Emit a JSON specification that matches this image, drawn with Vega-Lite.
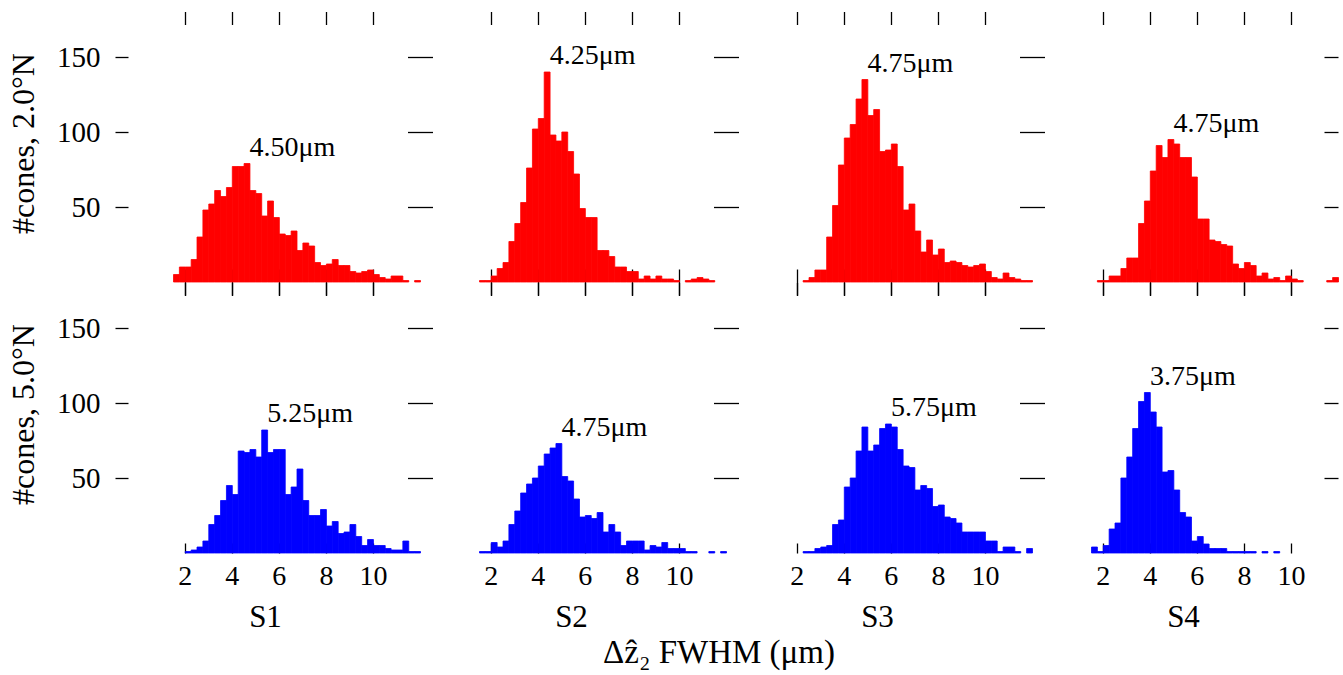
{
"$schema":"https://vega.github.io/schema/vega-lite/v6.json",
"background":"white",
"padding":{"left":7,"top":10,"right":4,"bottom":3},
"datasets":{
"hist":[
{"p":"S1","r":"2.0","x":1.5,"n":5},{"p":"S1","r":"2.0","x":1.75,"n":10},{"p":"S1","r":"2.0","x":2,"n":10},{"p":"S1","r":"2.0","x":2.25,"n":15},{"p":"S1","r":"2.0","x":2.5,"n":30},{"p":"S1","r":"2.0","x":2.75,"n":48},{"p":"S1","r":"2.0","x":3,"n":52},{"p":"S1","r":"2.0","x":3.25,"n":61},{"p":"S1","r":"2.0","x":3.5,"n":57},{"p":"S1","r":"2.0","x":3.75,"n":63},{"p":"S1","r":"2.0","x":4,"n":77},{"p":"S1","r":"2.0","x":4.25,"n":77},{"p":"S1","r":"2.0","x":4.5,"n":79},{"p":"S1","r":"2.0","x":4.75,"n":61},{"p":"S1","r":"2.0","x":5,"n":59},{"p":"S1","r":"2.0","x":5.25,"n":44},{"p":"S1","r":"2.0","x":5.5,"n":54},{"p":"S1","r":"2.0","x":5.75,"n":43},{"p":"S1","r":"2.0","x":6,"n":32},{"p":"S1","r":"2.0","x":6.25,"n":31},{"p":"S1","r":"2.0","x":6.5,"n":34},{"p":"S1","r":"2.0","x":6.75,"n":21},{"p":"S1","r":"2.0","x":7,"n":26},{"p":"S1","r":"2.0","x":7.25,"n":24},{"p":"S1","r":"2.0","x":7.5,"n":13},{"p":"S1","r":"2.0","x":7.75,"n":11},{"p":"S1","r":"2.0","x":8,"n":12},{"p":"S1","r":"2.0","x":8.25,"n":15},{"p":"S1","r":"2.0","x":8.5,"n":11},{"p":"S1","r":"2.0","x":8.75,"n":11},{"p":"S1","r":"2.0","x":9,"n":7},{"p":"S1","r":"2.0","x":9.25,"n":6},{"p":"S1","r":"2.0","x":9.5,"n":7},{"p":"S1","r":"2.0","x":9.75,"n":8},{"p":"S1","r":"2.0","x":10,"n":5},{"p":"S1","r":"2.0","x":10.25,"n":3},{"p":"S1","r":"2.0","x":10.5,"n":2},{"p":"S1","r":"2.0","x":10.75,"n":4},{"p":"S1","r":"2.0","x":11,"n":4},{"p":"S1","r":"2.0","x":11.25,"n":1},{"p":"S1","r":"2.0","x":11.75,"n":1},
{"p":"S1","r":"5.0","x":2,"n":1},{"p":"S1","r":"5.0","x":2.25,"n":2},{"p":"S1","r":"5.0","x":2.5,"n":4},{"p":"S1","r":"5.0","x":2.75,"n":8},{"p":"S1","r":"5.0","x":3,"n":19},{"p":"S1","r":"5.0","x":3.25,"n":25},{"p":"S1","r":"5.0","x":3.5,"n":35},{"p":"S1","r":"5.0","x":3.75,"n":45},{"p":"S1","r":"5.0","x":4,"n":39},{"p":"S1","r":"5.0","x":4.25,"n":68},{"p":"S1","r":"5.0","x":4.5,"n":67},{"p":"S1","r":"5.0","x":4.75,"n":69},{"p":"S1","r":"5.0","x":5,"n":64},{"p":"S1","r":"5.0","x":5.25,"n":82},{"p":"S1","r":"5.0","x":5.5,"n":67},{"p":"S1","r":"5.0","x":5.75,"n":69},{"p":"S1","r":"5.0","x":6,"n":69},{"p":"S1","r":"5.0","x":6.25,"n":39},{"p":"S1","r":"5.0","x":6.5,"n":44},{"p":"S1","r":"5.0","x":6.75,"n":56},{"p":"S1","r":"5.0","x":7,"n":35},{"p":"S1","r":"5.0","x":7.25,"n":25},{"p":"S1","r":"5.0","x":7.5,"n":25},{"p":"S1","r":"5.0","x":7.75,"n":29},{"p":"S1","r":"5.0","x":8,"n":18},{"p":"S1","r":"5.0","x":8.25,"n":21},{"p":"S1","r":"5.0","x":8.5,"n":13},{"p":"S1","r":"5.0","x":8.75,"n":14},{"p":"S1","r":"5.0","x":9,"n":19},{"p":"S1","r":"5.0","x":9.25,"n":11},{"p":"S1","r":"5.0","x":9.5,"n":5},{"p":"S1","r":"5.0","x":9.75,"n":9},{"p":"S1","r":"5.0","x":10,"n":5},{"p":"S1","r":"5.0","x":10.25,"n":5},{"p":"S1","r":"5.0","x":10.5,"n":3},{"p":"S1","r":"5.0","x":10.75,"n":2},{"p":"S1","r":"5.0","x":11,"n":2},{"p":"S1","r":"5.0","x":11.25,"n":8},{"p":"S1","r":"5.0","x":11.5,"n":1},{"p":"S1","r":"5.0","x":11.75,"n":1},
{"p":"S2","r":"2.0","x":1.5,"n":1},{"p":"S2","r":"2.0","x":1.75,"n":1},{"p":"S2","r":"2.0","x":2,"n":4},{"p":"S2","r":"2.0","x":2.25,"n":9},{"p":"S2","r":"2.0","x":2.5,"n":13},{"p":"S2","r":"2.0","x":2.75,"n":27},{"p":"S2","r":"2.0","x":3,"n":39},{"p":"S2","r":"2.0","x":3.25,"n":53},{"p":"S2","r":"2.0","x":3.5,"n":76},{"p":"S2","r":"2.0","x":3.75,"n":102},{"p":"S2","r":"2.0","x":4,"n":109},{"p":"S2","r":"2.0","x":4.25,"n":140},{"p":"S2","r":"2.0","x":4.5,"n":98},{"p":"S2","r":"2.0","x":4.75,"n":94},{"p":"S2","r":"2.0","x":5,"n":100},{"p":"S2","r":"2.0","x":5.25,"n":87},{"p":"S2","r":"2.0","x":5.5,"n":72},{"p":"S2","r":"2.0","x":5.75,"n":49},{"p":"S2","r":"2.0","x":6,"n":43},{"p":"S2","r":"2.0","x":6.25,"n":43},{"p":"S2","r":"2.0","x":6.5,"n":21},{"p":"S2","r":"2.0","x":6.75,"n":21},{"p":"S2","r":"2.0","x":7,"n":17},{"p":"S2","r":"2.0","x":7.25,"n":10},{"p":"S2","r":"2.0","x":7.5,"n":10},{"p":"S2","r":"2.0","x":7.75,"n":7},{"p":"S2","r":"2.0","x":8,"n":7},{"p":"S2","r":"2.0","x":8.25,"n":2},{"p":"S2","r":"2.0","x":8.5,"n":4},{"p":"S2","r":"2.0","x":8.75,"n":2},{"p":"S2","r":"2.0","x":9,"n":4},{"p":"S2","r":"2.0","x":9.25,"n":2},{"p":"S2","r":"2.0","x":9.5,"n":2},{"p":"S2","r":"2.0","x":9.75,"n":1},{"p":"S2","r":"2.0","x":10.25,"n":1},{"p":"S2","r":"2.0","x":10.5,"n":2},{"p":"S2","r":"2.0","x":10.75,"n":3},{"p":"S2","r":"2.0","x":11,"n":2},{"p":"S2","r":"2.0","x":11.25,"n":1},
{"p":"S2","r":"5.0","x":1.5,"n":1},{"p":"S2","r":"5.0","x":1.75,"n":1},{"p":"S2","r":"5.0","x":2,"n":7},{"p":"S2","r":"5.0","x":2.25,"n":4},{"p":"S2","r":"5.0","x":2.5,"n":8},{"p":"S2","r":"5.0","x":2.75,"n":19},{"p":"S2","r":"5.0","x":3,"n":28},{"p":"S2","r":"5.0","x":3.25,"n":40},{"p":"S2","r":"5.0","x":3.5,"n":46},{"p":"S2","r":"5.0","x":3.75,"n":50},{"p":"S2","r":"5.0","x":4,"n":58},{"p":"S2","r":"5.0","x":4.25,"n":66},{"p":"S2","r":"5.0","x":4.5,"n":70},{"p":"S2","r":"5.0","x":4.75,"n":73},{"p":"S2","r":"5.0","x":5,"n":51},{"p":"S2","r":"5.0","x":5.25,"n":48},{"p":"S2","r":"5.0","x":5.5,"n":36},{"p":"S2","r":"5.0","x":5.75,"n":24},{"p":"S2","r":"5.0","x":6,"n":25},{"p":"S2","r":"5.0","x":6.25,"n":23},{"p":"S2","r":"5.0","x":6.5,"n":27},{"p":"S2","r":"5.0","x":6.75,"n":14},{"p":"S2","r":"5.0","x":7,"n":19},{"p":"S2","r":"5.0","x":7.25,"n":14},{"p":"S2","r":"5.0","x":7.5,"n":5},{"p":"S2","r":"5.0","x":7.75,"n":8},{"p":"S2","r":"5.0","x":8,"n":8},{"p":"S2","r":"5.0","x":8.25,"n":8},{"p":"S2","r":"5.0","x":8.5,"n":2},{"p":"S2","r":"5.0","x":8.75,"n":5},{"p":"S2","r":"5.0","x":9,"n":4},{"p":"S2","r":"5.0","x":9.25,"n":7},{"p":"S2","r":"5.0","x":9.5,"n":3},{"p":"S2","r":"5.0","x":9.75,"n":3},{"p":"S2","r":"5.0","x":10,"n":3},{"p":"S2","r":"5.0","x":10.25,"n":1},{"p":"S2","r":"5.0","x":10.5,"n":1},{"p":"S2","r":"5.0","x":11.25,"n":1},{"p":"S2","r":"5.0","x":11.75,"n":1},
{"p":"S3","r":"2.0","x":2.25,"n":1},{"p":"S3","r":"2.0","x":2.5,"n":3},{"p":"S3","r":"2.0","x":2.75,"n":8},{"p":"S3","r":"2.0","x":3,"n":8},{"p":"S3","r":"2.0","x":3.25,"n":30},{"p":"S3","r":"2.0","x":3.5,"n":51},{"p":"S3","r":"2.0","x":3.75,"n":78},{"p":"S3","r":"2.0","x":4,"n":96},{"p":"S3","r":"2.0","x":4.25,"n":105},{"p":"S3","r":"2.0","x":4.5,"n":122},{"p":"S3","r":"2.0","x":4.75,"n":135},{"p":"S3","r":"2.0","x":5,"n":111},{"p":"S3","r":"2.0","x":5.25,"n":115},{"p":"S3","r":"2.0","x":5.5,"n":87},{"p":"S3","r":"2.0","x":5.75,"n":88},{"p":"S3","r":"2.0","x":6,"n":92},{"p":"S3","r":"2.0","x":6.25,"n":77},{"p":"S3","r":"2.0","x":6.5,"n":48},{"p":"S3","r":"2.0","x":6.75,"n":52},{"p":"S3","r":"2.0","x":7,"n":34},{"p":"S3","r":"2.0","x":7.25,"n":20},{"p":"S3","r":"2.0","x":7.5,"n":28},{"p":"S3","r":"2.0","x":7.75,"n":18},{"p":"S3","r":"2.0","x":8,"n":22},{"p":"S3","r":"2.0","x":8.25,"n":13},{"p":"S3","r":"2.0","x":8.5,"n":14},{"p":"S3","r":"2.0","x":8.75,"n":13},{"p":"S3","r":"2.0","x":9,"n":11},{"p":"S3","r":"2.0","x":9.25,"n":10},{"p":"S3","r":"2.0","x":9.5,"n":11},{"p":"S3","r":"2.0","x":9.75,"n":12},{"p":"S3","r":"2.0","x":10,"n":7},{"p":"S3","r":"2.0","x":10.25,"n":3},{"p":"S3","r":"2.0","x":10.5,"n":2},{"p":"S3","r":"2.0","x":10.75,"n":6},{"p":"S3","r":"2.0","x":11,"n":3},{"p":"S3","r":"2.0","x":11.25,"n":2},{"p":"S3","r":"2.0","x":11.5,"n":1},{"p":"S3","r":"2.0","x":11.75,"n":1},
{"p":"S3","r":"5.0","x":2.25,"n":1},{"p":"S3","r":"5.0","x":2.5,"n":1},{"p":"S3","r":"5.0","x":2.75,"n":3},{"p":"S3","r":"5.0","x":3,"n":4},{"p":"S3","r":"5.0","x":3.25,"n":5},{"p":"S3","r":"5.0","x":3.5,"n":19},{"p":"S3","r":"5.0","x":3.75,"n":22},{"p":"S3","r":"5.0","x":4,"n":44},{"p":"S3","r":"5.0","x":4.25,"n":50},{"p":"S3","r":"5.0","x":4.5,"n":68},{"p":"S3","r":"5.0","x":4.75,"n":84},{"p":"S3","r":"5.0","x":5,"n":68},{"p":"S3","r":"5.0","x":5.25,"n":72},{"p":"S3","r":"5.0","x":5.5,"n":83},{"p":"S3","r":"5.0","x":5.75,"n":86},{"p":"S3","r":"5.0","x":6,"n":84},{"p":"S3","r":"5.0","x":6.25,"n":69},{"p":"S3","r":"5.0","x":6.5,"n":58},{"p":"S3","r":"5.0","x":6.75,"n":57},{"p":"S3","r":"5.0","x":7,"n":42},{"p":"S3","r":"5.0","x":7.25,"n":45},{"p":"S3","r":"5.0","x":7.5,"n":43},{"p":"S3","r":"5.0","x":7.75,"n":31},{"p":"S3","r":"5.0","x":8,"n":32},{"p":"S3","r":"5.0","x":8.25,"n":24},{"p":"S3","r":"5.0","x":8.5,"n":23},{"p":"S3","r":"5.0","x":8.75,"n":20},{"p":"S3","r":"5.0","x":9,"n":14},{"p":"S3","r":"5.0","x":9.25,"n":14},{"p":"S3","r":"5.0","x":9.5,"n":14},{"p":"S3","r":"5.0","x":9.75,"n":14},{"p":"S3","r":"5.0","x":10,"n":8},{"p":"S3","r":"5.0","x":10.25,"n":8},{"p":"S3","r":"5.0","x":10.5,"n":1},{"p":"S3","r":"5.0","x":10.75,"n":4},{"p":"S3","r":"5.0","x":11,"n":4},{"p":"S3","r":"5.0","x":11.25,"n":1},{"p":"S3","r":"5.0","x":11.75,"n":3},
{"p":"S4","r":"2.0","x":1.75,"n":1},{"p":"S4","r":"2.0","x":2,"n":1},{"p":"S4","r":"2.0","x":2.25,"n":4},{"p":"S4","r":"2.0","x":2.5,"n":4},{"p":"S4","r":"2.0","x":2.75,"n":9},{"p":"S4","r":"2.0","x":3,"n":16},{"p":"S4","r":"2.0","x":3.25,"n":16},{"p":"S4","r":"2.0","x":3.5,"n":39},{"p":"S4","r":"2.0","x":3.75,"n":54},{"p":"S4","r":"2.0","x":4,"n":74},{"p":"S4","r":"2.0","x":4.25,"n":91},{"p":"S4","r":"2.0","x":4.5,"n":83},{"p":"S4","r":"2.0","x":4.75,"n":95},{"p":"S4","r":"2.0","x":5,"n":92},{"p":"S4","r":"2.0","x":5.25,"n":83},{"p":"S4","r":"2.0","x":5.5,"n":83},{"p":"S4","r":"2.0","x":5.75,"n":70},{"p":"S4","r":"2.0","x":6,"n":42},{"p":"S4","r":"2.0","x":6.25,"n":42},{"p":"S4","r":"2.0","x":6.5,"n":28},{"p":"S4","r":"2.0","x":6.75,"n":27},{"p":"S4","r":"2.0","x":7,"n":25},{"p":"S4","r":"2.0","x":7.25,"n":24},{"p":"S4","r":"2.0","x":7.5,"n":12},{"p":"S4","r":"2.0","x":7.75,"n":9},{"p":"S4","r":"2.0","x":8,"n":13},{"p":"S4","r":"2.0","x":8.25,"n":11},{"p":"S4","r":"2.0","x":8.5,"n":4},{"p":"S4","r":"2.0","x":8.75,"n":6},{"p":"S4","r":"2.0","x":9,"n":2},{"p":"S4","r":"2.0","x":9.25,"n":3},{"p":"S4","r":"2.0","x":9.5,"n":1},{"p":"S4","r":"2.0","x":9.75,"n":4},{"p":"S4","r":"2.0","x":10,"n":2},{"p":"S4","r":"2.0","x":10.25,"n":1},{"p":"S4","r":"2.0","x":11.5,"n":1},{"p":"S4","r":"2.0","x":11.75,"n":3},
{"p":"S4","r":"5.0","x":1.5,"n":4},{"p":"S4","r":"5.0","x":1.75,"n":1},{"p":"S4","r":"5.0","x":2,"n":5},{"p":"S4","r":"5.0","x":2.25,"n":16},{"p":"S4","r":"5.0","x":2.5,"n":20},{"p":"S4","r":"5.0","x":2.75,"n":50},{"p":"S4","r":"5.0","x":3,"n":64},{"p":"S4","r":"5.0","x":3.25,"n":83},{"p":"S4","r":"5.0","x":3.5,"n":101},{"p":"S4","r":"5.0","x":3.75,"n":107},{"p":"S4","r":"5.0","x":4,"n":94},{"p":"S4","r":"5.0","x":4.25,"n":84},{"p":"S4","r":"5.0","x":4.5,"n":54},{"p":"S4","r":"5.0","x":4.75,"n":55},{"p":"S4","r":"5.0","x":5,"n":42},{"p":"S4","r":"5.0","x":5.25,"n":27},{"p":"S4","r":"5.0","x":5.5,"n":24},{"p":"S4","r":"5.0","x":5.75,"n":8},{"p":"S4","r":"5.0","x":6,"n":11},{"p":"S4","r":"5.0","x":6.25,"n":6},{"p":"S4","r":"5.0","x":6.5,"n":3},{"p":"S4","r":"5.0","x":6.75,"n":3},{"p":"S4","r":"5.0","x":7,"n":3},{"p":"S4","r":"5.0","x":7.25,"n":1},{"p":"S4","r":"5.0","x":7.5,"n":1},{"p":"S4","r":"5.0","x":7.75,"n":1},{"p":"S4","r":"5.0","x":8,"n":1},{"p":"S4","r":"5.0","x":8.25,"n":1},{"p":"S4","r":"5.0","x":8.75,"n":1},{"p":"S4","r":"5.0","x":9.25,"n":1}
],
"ann":[
{"p":"S1","r":"2.0","m":4.5,"pk":79,"t":"4.50μm"},
{"p":"S2","r":"2.0","m":4.25,"pk":140,"t":"4.25μm"},
{"p":"S3","r":"2.0","m":4.75,"pk":135,"t":"4.75μm"},
{"p":"S4","r":"2.0","m":4.75,"pk":95,"t":"4.75μm"},
{"p":"S1","r":"5.0","m":5.25,"pk":82,"t":"5.25μm"},
{"p":"S2","r":"5.0","m":4.75,"pk":73,"t":"4.75μm"},
{"p":"S3","r":"5.0","m":5.75,"pk":86,"t":"5.75μm"},
{"p":"S4","r":"5.0","m":3.75,"pk":107,"t":"3.75μm"}
]
},
"config":{
"view":{"stroke":null},
"font":"Liberation Serif",
"axis":{"grid":false,"domain":false,"tickColor":"#000","tickWidth":1.3,"labelColor":"#000","titleColor":"#000","labelFont":"Liberation Serif","titleFont":"Liberation Serif","titleFontWeight":"normal"},
"title":{"font":"Liberation Serif","fontWeight":"normal","color":"#000"}
},
"title":{"text":"Δẑ₂ FWHM (μm)","orient":"bottom","anchor":"middle","frame":"bounds","fontSize":33,"offset":5,"dx":46},
"columns":4,
"spacing":{"row":7,"column":59},
"bounds":"flush",
"concat":[
{"width":247,"height":264,"layer":[
{"data":{"name":"hist"},"transform":[{"filter":"datum.p=='S1'&&datum.r=='2.0'"}],"mark":{"type":"bar","color":"#ff0000","stroke":"#ff0000","strokeWidth":0.8,"binSpacing":0},
"encoding":{"x":{"field":"x","type":"quantitative","bin":{"binned":true,"step":0.25},"scale":{"domain":[1.5,12],"nice":false,"zero":false},"axis":{"orient":"bottom","values":[2,4,6,8,10],"labels":false,"tickSize":26,"offset":-13,"title":null}},
"y":{"field":"n","type":"quantitative","scale":{"domain":[0,176],"nice":false},"axis":{"orient":"left","values":[50,100,150],"tickSize":13,"offset":45,"labelFontSize":29,"labelPadding":15,"title":"#cones, 2.0°N","titleFontSize":32,"titleAngle":270,"titleX":-95,"titleY":125,"titleAlign":"center","titleBaseline":"alphabetic"}}}},
{"data":{"name":"ann"},"transform":[{"filter":"datum.p=='S1'&&datum.r=='2.0'"}],"mark":{"type":"text","align":"left","baseline":"alphabetic","dx":6,"dy":-8,"fontSize":28,"font":"Liberation Serif","color":"#000"},
"encoding":{"x":{"field":"m","type":"quantitative","axis":{"orient":"top","values":[2,4,6,8,10],"labels":false,"tickSize":13,"offset":-6.5,"title":null}},
"y":{"field":"pk","type":"quantitative","axis":{"orient":"right","values":[50,100,150],"labels":false,"tickSize":25,"offset":-12.5,"title":null}},"text":{"field":"t"}}}
],"resolve":{"axis":{"x":"independent","y":"independent"}}},
{"width":247,"height":264,"layer":[
{"data":{"name":"hist"},"transform":[{"filter":"datum.p=='S2'&&datum.r=='2.0'"}],"mark":{"type":"bar","color":"#ff0000","stroke":"#ff0000","strokeWidth":0.8,"binSpacing":0},
"encoding":{"x":{"field":"x","type":"quantitative","bin":{"binned":true,"step":0.25},"scale":{"domain":[1.5,12],"nice":false,"zero":false},"axis":{"orient":"bottom","values":[2,4,6,8,10],"labels":false,"tickSize":26,"offset":-13,"title":null}},
"y":{"field":"n","type":"quantitative","scale":{"domain":[0,176],"nice":false},"axis":null}}},
{"data":{"name":"ann"},"transform":[{"filter":"datum.p=='S2'&&datum.r=='2.0'"}],"mark":{"type":"text","align":"left","baseline":"alphabetic","dx":6,"dy":-8,"fontSize":28,"font":"Liberation Serif","color":"#000"},
"encoding":{"x":{"field":"m","type":"quantitative","axis":{"orient":"top","values":[2,4,6,8,10],"labels":false,"tickSize":13,"offset":-6.5,"title":null}},
"y":{"field":"pk","type":"quantitative","axis":{"orient":"right","values":[50,100,150],"labels":false,"tickSize":25,"offset":-12.5,"title":null}},"text":{"field":"t"}}}
],"resolve":{"axis":{"x":"independent","y":"independent"}}},
{"width":247,"height":264,"layer":[
{"data":{"name":"hist"},"transform":[{"filter":"datum.p=='S3'&&datum.r=='2.0'"}],"mark":{"type":"bar","color":"#ff0000","stroke":"#ff0000","strokeWidth":0.8,"binSpacing":0},
"encoding":{"x":{"field":"x","type":"quantitative","bin":{"binned":true,"step":0.25},"scale":{"domain":[1.5,12],"nice":false,"zero":false},"axis":{"orient":"bottom","values":[2,4,6,8,10],"labels":false,"tickSize":26,"offset":-13,"title":null}},
"y":{"field":"n","type":"quantitative","scale":{"domain":[0,176],"nice":false},"axis":null}}},
{"data":{"name":"ann"},"transform":[{"filter":"datum.p=='S3'&&datum.r=='2.0'"}],"mark":{"type":"text","align":"left","baseline":"alphabetic","dx":6,"dy":-8,"fontSize":28,"font":"Liberation Serif","color":"#000"},
"encoding":{"x":{"field":"m","type":"quantitative","axis":{"orient":"top","values":[2,4,6,8,10],"labels":false,"tickSize":13,"offset":-6.5,"title":null}},
"y":{"field":"pk","type":"quantitative","axis":{"orient":"right","values":[50,100,150],"labels":false,"tickSize":25,"offset":-12.5,"title":null}},"text":{"field":"t"}}}
],"resolve":{"axis":{"x":"independent","y":"independent"}}},
{"width":247,"height":264,"layer":[
{"data":{"name":"hist"},"transform":[{"filter":"datum.p=='S4'&&datum.r=='2.0'"}],"mark":{"type":"bar","color":"#ff0000","stroke":"#ff0000","strokeWidth":0.8,"binSpacing":0},
"encoding":{"x":{"field":"x","type":"quantitative","bin":{"binned":true,"step":0.25},"scale":{"domain":[1.5,12],"nice":false,"zero":false},"axis":{"orient":"bottom","values":[2,4,6,8,10],"labels":false,"tickSize":26,"offset":-13,"title":null}},
"y":{"field":"n","type":"quantitative","scale":{"domain":[0,176],"nice":false},"axis":null}}},
{"data":{"name":"ann"},"transform":[{"filter":"datum.p=='S4'&&datum.r=='2.0'"}],"mark":{"type":"text","align":"left","baseline":"alphabetic","dx":6,"dy":-8,"fontSize":28,"font":"Liberation Serif","color":"#000"},
"encoding":{"x":{"field":"m","type":"quantitative","axis":{"orient":"top","values":[2,4,6,8,10],"labels":false,"tickSize":13,"offset":-6.5,"title":null}},
"y":{"field":"pk","type":"quantitative","axis":{"orient":"right","values":[50,100,150],"labels":false,"tickSize":14,"offset":-14,"title":null}},"text":{"field":"t"}}}
],"resolve":{"axis":{"x":"independent","y":"independent"}}},
{"width":247,"height":264,"layer":[
{"data":{"name":"hist"},"transform":[{"filter":"datum.p=='S1'&&datum.r=='5.0'"}],"mark":{"type":"bar","color":"#0000ff","stroke":"#0000ff","strokeWidth":0.8,"binSpacing":0},
"encoding":{"x":{"field":"x","type":"quantitative","bin":{"binned":true,"step":0.25},"scale":{"domain":[1.5,12],"nice":false,"zero":false},"axis":{"orient":"bottom","values":[2,4,6,8,10],"format":"d","labelFontSize":28,"labelPadding":9,"tickSize":10,"offset":-10,"title":"S1","titleFontSize":31,"titleX":92,"titleY":83,"titleAlign":"center","titleBaseline":"alphabetic"}},
"y":{"field":"n","type":"quantitative","scale":{"domain":[0,176],"nice":false},"axis":{"orient":"left","values":[50,100,150],"tickSize":13,"offset":45,"labelFontSize":29,"labelPadding":15,"title":"#cones, 5.0°N","titleFontSize":32,"titleAngle":270,"titleX":-95,"titleY":125,"titleAlign":"center","titleBaseline":"alphabetic"}}}},
{"data":{"name":"ann"},"transform":[{"filter":"datum.p=='S1'&&datum.r=='5.0'"}],"mark":{"type":"text","align":"left","baseline":"alphabetic","dx":6,"dy":-8,"fontSize":28,"font":"Liberation Serif","color":"#000"},
"encoding":{"x":{"field":"m","type":"quantitative","axis":{"orient":"top","values":[2,4,6,8,10],"labels":false,"tickSize":13,"offset":-6.5,"title":null}},
"y":{"field":"pk","type":"quantitative","axis":{"orient":"right","values":[50,100,150],"labels":false,"tickSize":25,"offset":-12.5,"title":null}},"text":{"field":"t"}}}
],"resolve":{"axis":{"x":"independent","y":"independent"}}},
{"width":247,"height":264,"layer":[
{"data":{"name":"hist"},"transform":[{"filter":"datum.p=='S2'&&datum.r=='5.0'"}],"mark":{"type":"bar","color":"#0000ff","stroke":"#0000ff","strokeWidth":0.8,"binSpacing":0},
"encoding":{"x":{"field":"x","type":"quantitative","bin":{"binned":true,"step":0.25},"scale":{"domain":[1.5,12],"nice":false,"zero":false},"axis":{"orient":"bottom","values":[2,4,6,8,10],"format":"d","labelFontSize":28,"labelPadding":9,"tickSize":10,"offset":-10,"title":"S2","titleFontSize":31,"titleX":92,"titleY":83,"titleAlign":"center","titleBaseline":"alphabetic"}},
"y":{"field":"n","type":"quantitative","scale":{"domain":[0,176],"nice":false},"axis":null}}},
{"data":{"name":"ann"},"transform":[{"filter":"datum.p=='S2'&&datum.r=='5.0'"}],"mark":{"type":"text","align":"left","baseline":"alphabetic","dx":6,"dy":-8,"fontSize":28,"font":"Liberation Serif","color":"#000"},
"encoding":{"x":{"field":"m","type":"quantitative","axis":{"orient":"top","values":[2,4,6,8,10],"labels":false,"tickSize":13,"offset":-6.5,"title":null}},
"y":{"field":"pk","type":"quantitative","axis":{"orient":"right","values":[50,100,150],"labels":false,"tickSize":25,"offset":-12.5,"title":null}},"text":{"field":"t"}}}
],"resolve":{"axis":{"x":"independent","y":"independent"}}},
{"width":247,"height":264,"layer":[
{"data":{"name":"hist"},"transform":[{"filter":"datum.p=='S3'&&datum.r=='5.0'"}],"mark":{"type":"bar","color":"#0000ff","stroke":"#0000ff","strokeWidth":0.8,"binSpacing":0},
"encoding":{"x":{"field":"x","type":"quantitative","bin":{"binned":true,"step":0.25},"scale":{"domain":[1.5,12],"nice":false,"zero":false},"axis":{"orient":"bottom","values":[2,4,6,8,10],"format":"d","labelFontSize":28,"labelPadding":9,"tickSize":10,"offset":-10,"title":"S3","titleFontSize":31,"titleX":92,"titleY":83,"titleAlign":"center","titleBaseline":"alphabetic"}},
"y":{"field":"n","type":"quantitative","scale":{"domain":[0,176],"nice":false},"axis":null}}},
{"data":{"name":"ann"},"transform":[{"filter":"datum.p=='S3'&&datum.r=='5.0'"}],"mark":{"type":"text","align":"left","baseline":"alphabetic","dx":6,"dy":-8,"fontSize":28,"font":"Liberation Serif","color":"#000"},
"encoding":{"x":{"field":"m","type":"quantitative","axis":{"orient":"top","values":[2,4,6,8,10],"labels":false,"tickSize":13,"offset":-6.5,"title":null}},
"y":{"field":"pk","type":"quantitative","axis":{"orient":"right","values":[50,100,150],"labels":false,"tickSize":25,"offset":-12.5,"title":null}},"text":{"field":"t"}}}
],"resolve":{"axis":{"x":"independent","y":"independent"}}},
{"width":247,"height":264,"layer":[
{"data":{"name":"hist"},"transform":[{"filter":"datum.p=='S4'&&datum.r=='5.0'"}],"mark":{"type":"bar","color":"#0000ff","stroke":"#0000ff","strokeWidth":0.8,"binSpacing":0},
"encoding":{"x":{"field":"x","type":"quantitative","bin":{"binned":true,"step":0.25},"scale":{"domain":[1.5,12],"nice":false,"zero":false},"axis":{"orient":"bottom","values":[2,4,6,8,10],"format":"d","labelFontSize":28,"labelPadding":9,"tickSize":10,"offset":-10,"title":"S4","titleFontSize":31,"titleX":92,"titleY":83,"titleAlign":"center","titleBaseline":"alphabetic"}},
"y":{"field":"n","type":"quantitative","scale":{"domain":[0,176],"nice":false},"axis":null}}},
{"data":{"name":"ann"},"transform":[{"filter":"datum.p=='S4'&&datum.r=='5.0'"}],"mark":{"type":"text","align":"left","baseline":"alphabetic","dx":6,"dy":-8,"fontSize":28,"font":"Liberation Serif","color":"#000"},
"encoding":{"x":{"field":"m","type":"quantitative","axis":{"orient":"top","values":[2,4,6,8,10],"labels":false,"tickSize":13,"offset":-6.5,"title":null}},
"y":{"field":"pk","type":"quantitative","axis":{"orient":"right","values":[50,100,150],"labels":false,"tickSize":14,"offset":-14,"title":null}},"text":{"field":"t"}}}
],"resolve":{"axis":{"x":"independent","y":"independent"}}}
]
}
